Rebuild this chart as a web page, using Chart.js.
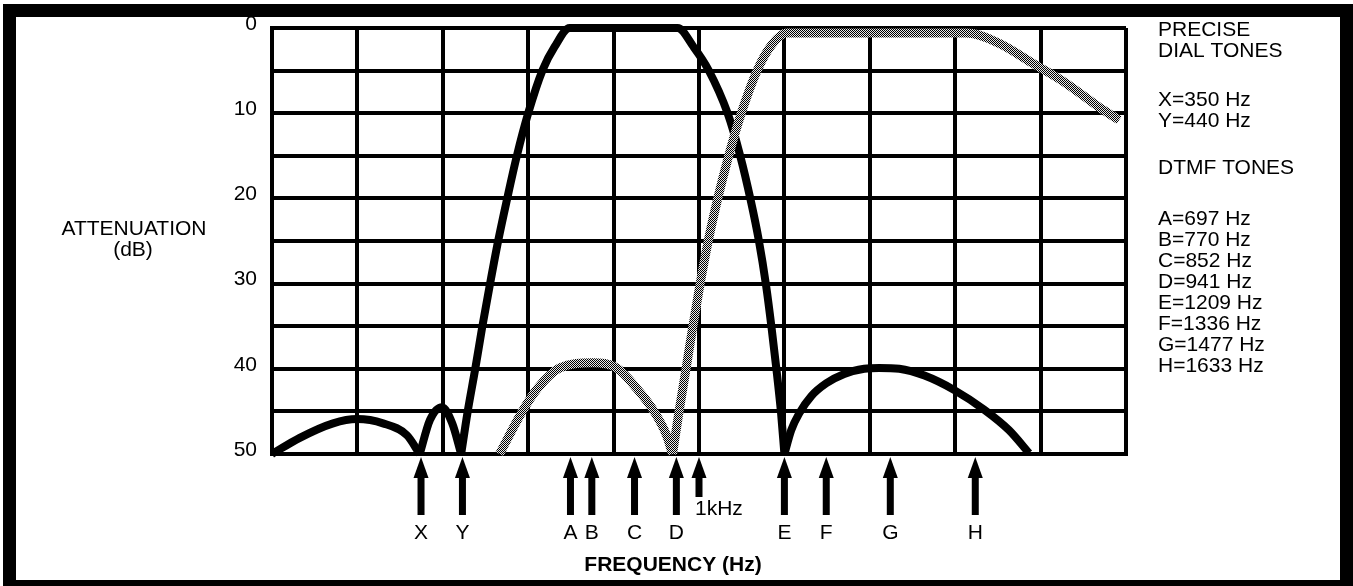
<!DOCTYPE html>
<html>
<head>
<meta charset="utf-8">
<script src="https://cdn.jsdelivr.net/npm/chart.js@4.4.1/dist/chart.umd.min.js"></script>
<style>
    html, body { margin: 0; padding: 0; background: #fff; }
    #wrap { width: 1353px; height: 586px; position: relative; }
</style>
</head>
<body>
<div id="wrap"><canvas id="filterChart" width="1353" height="586"></canvas></div>
<script>
// attenuation curves, [Hz, dB]
const dialLobeOne = [[0, 50], [65, 48.1], [143, 46.4], [199, 45.9], [260, 46.4], [316, 47.8], [346, 50]];
const dialLobeTwo = [[346, 50], [370, 46.0], [398, 44.5], [422, 46.4], [443, 50]];
const lowBand = [[443, 50], [458, 45.1], [476, 40.0], [492, 35.2], [510, 30.2], [530, 24.9], [550, 20.2],
    [573, 15.1], [600, 10.0], [634, 4.9], [662, 2.2], [697, 0], [820, 0], [950, 0], [987, 2.2], [1022, 4.9],
    [1067, 10.0], [1097, 15.1], [1121, 20.2], [1140, 24.9], [1157, 30.2], [1170, 35.2], [1181, 39.9],
    [1192, 45.1], [1200, 50]];
const lowStopLobe = [[1200, 50], [1216, 47.2], [1235, 45.2], [1263, 43.2], [1298, 41.7], [1340, 40.6],
    [1387, 40.0], [1422, 39.9], [1469, 40.0], [1528, 40.8], [1598, 42.5], [1668, 44.8], [1726, 47.2], [1773, 49.9]];
const highStopLobe = [[533, 50], [585, 45.1], [622, 42.3], [674, 39.9], [751, 39.3], [807, 39.9],
    [854, 42.3], [896, 45.1], [924, 47.8], [938, 50]];
const highBand = [[938, 50], [953, 45.1], [970, 39.9], [985, 35.2], [1002, 30.2], [1022, 24.9], [1043, 20.2],
    [1069, 15.1], [1099, 10.0], [1137, 4.9], [1170, 2.0], [1205, 0.6], [1400, 0.6], [1626, 0.6], [1703, 1.8],
    [1780, 4.1], [1860, 6.5], [1937, 9.3], [1984, 10.8]];

// tone markers under the axis (positions as drawn)
const toneNames = ['X', 'Y', 'A', 'B', 'C', 'D', 'E', 'F', 'G', 'H'];
const toneMarks = [349, 446, 699, 749, 849, 947, 1200, 1298, 1448, 1647];
const kHzMark = 1000;

const yTickLabels = [0, 10, 20, 30, 40, 50];

const dialLines = ['PRECISE', 'DIAL TONES'];
const dialValues = ['X=350 Hz', 'Y=440 Hz'];
const dtmfTitle = 'DTMF TONES';
const dtmfValues = ['A=697 Hz', 'B=770 Hz', 'C=852 Hz', 'D=941 Hz', 'E=1209 Hz', 'F=1336 Hz', 'G=1477 Hz', 'H=1633 Hz'];

const FONT = '"Liberation Sans", Arial, Helvetica, sans-serif';

const canvas = document.getElementById('filterChart');
const ctx = canvas.getContext('2d');

function ditherPattern() {
    const tile = document.createElement('canvas');
    tile.width = 2;
    tile.height = 2;
    const t = tile.getContext('2d');
    t.fillStyle = '#e8e8e8';
    t.fillRect(0, 0, 2, 2);
    t.fillStyle = '#000';
    t.fillRect(0, 0, 1, 1);
    t.fillRect(1, 1, 1, 1);
    return ctx.createPattern(tile, 'repeat');
}
const gray = ditherPattern();

function toPoints(arr) {
    return arr.map(p => ({x: p[0], y: p[1]}));
}

function curve(arr, color, width) {
    return {
        data: toPoints(arr),
        borderColor: color,
        borderWidth: width,
        pointRadius: 0,
        fill: false,
        cubicInterpolationMode: 'monotone',
        clip: false
    };
}

const extras = {
    id: 'extras',
    afterDraw(chart) {
        const c = chart.ctx;
        const xs = chart.scales.x;
        const ys = chart.scales.y;
        const base = ys.getPixelForValue(50);
        c.save();

        // outer frame
        c.strokeStyle = '#000';
        c.lineWidth = 13;
        c.strokeRect(9.5, 10.5, 1337, 576);

        c.fillStyle = '#000';
        const arrow = (hz, len) => {
            const x = xs.getPixelForValue(hz);
            c.beginPath();
            c.moveTo(x, base + 3);
            c.lineTo(x + 7.5, base + 24);
            c.lineTo(x - 7.5, base + 24);
            c.closePath();
            c.fill();
            c.fillRect(x - 3.5, base + 23, 7, len);
            return x;
        };

        c.font = '21px ' + FONT;
        c.textAlign = 'center';
        c.textBaseline = 'middle';
        toneMarks.forEach((hz, i) => {
            const x = arrow(hz, 38);
            c.fillText(toneNames[i], x, base + 79);
        });
        const kx = arrow(kHzMark, 20);
        c.textAlign = 'left';
        c.fillText('1kHz', kx - 4, base + 55);

        // axis titles
        c.textAlign = 'center';
        c.fillText('ATTENUATION', 134, 229);
        c.fillText('(dB)', 133, 250);
        c.font = 'bold 21px ' + FONT;
        c.fillText('FREQUENCY (Hz)', 673, 565);

        // tone list on the right
        c.font = '21px ' + FONT;
        c.textAlign = 'left';
        const tx = 1158;
        c.fillText(dialLines[0], tx, 30);
        c.fillText(dialLines[1], tx, 51);
        c.fillText(dialValues[0], tx, 100);
        c.fillText(dialValues[1], tx, 121);
        c.fillText(dtmfTitle, tx, 168);
        dtmfValues.forEach((s, i) => c.fillText(s, tx, 219 + i * 21.1));

        c.restore();
    }
};

new Chart(ctx, {
    type: 'line',
    data: {
        datasets: [
            curve(highStopLobe, gray, 9),
            curve(highBand, gray, 9),
            curve(dialLobeOne, '#000', 8),
            curve(dialLobeTwo, '#000', 8),
            curve(lowBand, '#000', 8),
            curve(lowStopLobe, '#000', 8)
        ]
    },
    options: {
        responsive: false,
        animation: false,
        devicePixelRatio: 1,
        layout: {padding: {left: 0, top: 28, right: 227, bottom: 132}},
        plugins: {legend: {display: false}, tooltip: {enabled: false}},
        scales: {
            x: {
                type: 'linear',
                min: 0,
                max: 2000,
                ticks: {display: false, stepSize: 200},
                grid: {color: '#000', lineWidth: 4, drawTicks: false},
                border: {color: '#000', width: 4}
            },
            y: {
                type: 'linear',
                reverse: true,
                min: 0,
                max: 50,
                afterFit(scale) {
                    scale.width = 272;
                },
                ticks: {
                    stepSize: 5,
                    padding: 15,
                    labelOffset: -4,
                    color: '#000',
                    font: {family: FONT, size: 21},
                    callback: v => yTickLabels.includes(v) ? String(v) : ''
                },
                grid: {color: '#000', lineWidth: 4, drawTicks: false},
                border: {color: '#000', width: 4}
            }
        }
    },
    plugins: [extras]
});
</script>
</body>
</html>
